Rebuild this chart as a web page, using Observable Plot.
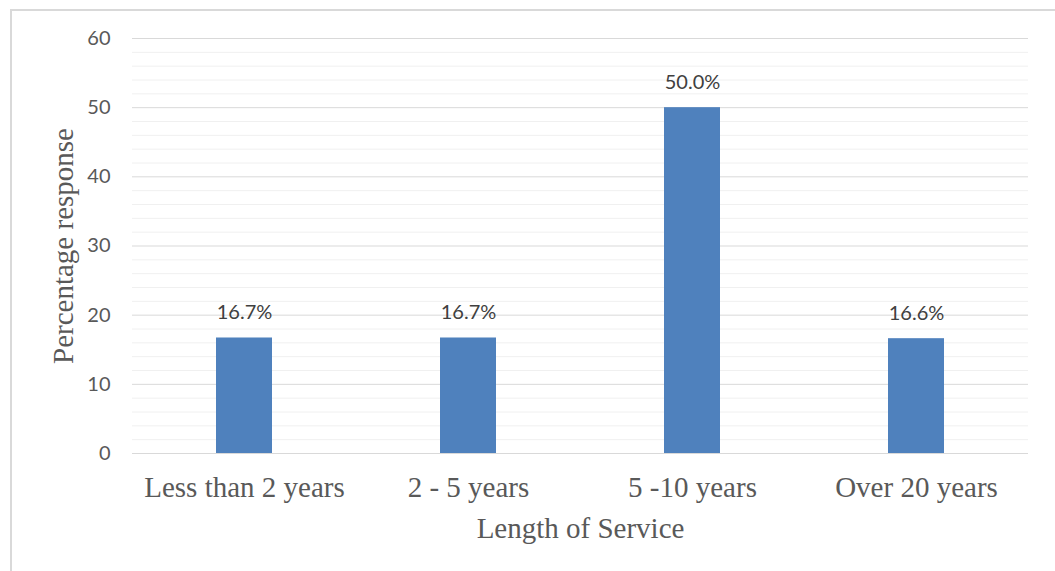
<!DOCTYPE html>
<html>
<head>
<meta charset="utf-8">
<script src="https://cdn.jsdelivr.net/npm/d3@7"></script>
<script src="https://cdn.jsdelivr.net/npm/@observablehq/plot@0.6"></script>
<style>
  html, body { margin: 0; padding: 0; background: #fff; overflow: hidden; }
  #wrap { position: relative; width: 1055px; height: 571px; }
  #frame { position: absolute; left: 10px; top: 9px; width: 1100px; height: 620px; border: 2px solid #d9d9d9; box-sizing: border-box; pointer-events: none; }
</style>
</head>
<body>
<div id="wrap"><div id="frame"></div></div>
<script>
const categories = ["Less than 2 years", "2 - 5 years", "5 -10 years", "Over 20 years"];
const values = [16.7, 16.7, 50.0, 16.6];
const valueLabels = ["16.7%", "16.7%", "50.0%", "16.6%"];
const majorTicks = [0, 10, 20, 30, 40, 50, 60];
const minorTicks = [2, 4, 6, 8, 12, 14, 16, 18, 22, 24, 26, 28, 32, 34, 36, 38, 42, 44, 46, 48, 52, 54, 56, 58];
const xTitle = "Length of Service";
const yTitle = "Percentage response";

const data = categories.map((c, i) => ({category: c, value: values[i], label: valueLabels[i]}));

const chart = Plot.plot({
  width: 1055,
  height: 571,
  marginLeft: 132,
  marginRight: 27,
  marginTop: 38,
  marginBottom: 118,
  style: {background: "transparent"},
  x: {domain: categories, paddingInner: 0.75, paddingOuter: 0.375, axis: null},
  y: {domain: [0, 60], axis: null},
  marks: [
    Plot.ruleY(minorTicks, {stroke: "#f0f0f0", strokeWidth: 1}),
    Plot.ruleY(majorTicks, {stroke: "#d9d9d9", strokeWidth: 1}),
    Plot.barY(data, {x: "category", y: "value", fill: "#4F81BD"}),
    Plot.text(data, {x: "category", y: "value", text: "label", dy: -25, fontSize: 20, fill: "#404040", fontFamily: "Lato, sans-serif"}),
    Plot.axisY({ticks: majorTicks, tickSize: 0, tickPadding: 22, fontSize: 20, fill: "#595959", fontFamily: "Lato, sans-serif", label: null}),
    Plot.axisX({tickSize: 0, tickPadding: 23, fontSize: 29, fill: "#595959", fontFamily: "'Liberation Serif', serif", label: null}),
    Plot.text([xTitle], {frameAnchor: "bottom", dy: 75, lineAnchor: "middle", textAnchor: "middle", fontSize: 29, fill: "#595959", fontFamily: "'Liberation Serif', serif"}),
    Plot.text([yTitle], {frameAnchor: "left", dx: -69, rotate: -90, lineAnchor: "middle", textAnchor: "middle", fontSize: 29, fill: "#595959", fontFamily: "'Liberation Serif', serif"})
  ]
});
chart.style.position = "absolute";
chart.style.left = "0";
chart.style.top = "0";
document.getElementById("wrap").appendChild(chart);
</script>
</body>
</html>
